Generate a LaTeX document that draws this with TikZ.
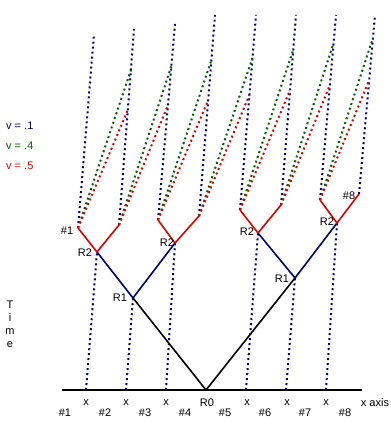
\documentclass[tikz,border=0pt]{standalone}
\usepackage{fontspec}
\setmainfont{Liberation Sans}
\definecolor{navy}{RGB}{0,0,110}
\definecolor{dgreen}{RGB}{0,100,0}
\definecolor{lred}{RGB}{220,0,0}
\begin{document}
\begin{tikzpicture}[x=1pt,y=-1pt,
  lbl/.style={inner sep=0pt,font=\fontsize{11}{13}\selectfont},
  solidln/.style={line width=1.6pt},
  dots/.style={line width=2pt,dash pattern=on 2pt off 3pt},
  ]
\useasboundingbox[fill=white] (0,0) rectangle (390,435);
% axis
\coordinate (A0) at (62,390);
\coordinate (A1) at (362,390);
\draw[line width=2pt] (A0) -- (A1);
% axis points
\coordinate (X1) at (86,390);
\coordinate (X2) at (126,390);
\coordinate (X3) at (166,390);
\coordinate (R0) at (206,390);
\coordinate (X5) at (246,390);
\coordinate (X6) at (286,390);
\coordinate (X7) at (326,390);
% vertices
\coordinate (R1a) at (133,298);
\coordinate (R1b) at (295,278);
\coordinate (R2a) at (97,252);
\coordinate (R2b) at (175,243);
\coordinate (R2c) at (258,233);
\coordinate (R2d) at (337,223);
% tips
\coordinate (T1) at (78,228);
\coordinate (T2) at (119,225);
\coordinate (T3) at (158,220);
\coordinate (T4) at (199,216);
\coordinate (T5) at (240,210);
\coordinate (T6) at (281,205);
\coordinate (T7) at (320,200);
\coordinate (T8) at (359,194);
% tops
\coordinate (B1) at (94,34);
\coordinate (B2) at (134,29);
\coordinate (B3) at (175,24);
\coordinate (B4) at (215,15);
\coordinate (B5) at (256,15);
\coordinate (B6) at (296,15);
\coordinate (B7) at (336,15);
\coordinate (B8) at (375,15);
% green ends
\coordinate (G1) at (130.9,70);
\coordinate (G2) at (171.4,66);
\coordinate (G3) at (211.4,60);
\coordinate (G4) at (252.5,58);
\coordinate (G5) at (293.2,50);
\coordinate (G6) at (333.6,43);
\coordinate (G7) at (372.9,38);
% red ends
\coordinate (E1) at (127.8,110);
\coordinate (E2) at (168.0,105);
\coordinate (E3) at (208.2,100);
\coordinate (E4) at (249.4,95);
\coordinate (E5) at (290.1,90);
\coordinate (E6) at (329.9,85);
\coordinate (E7) at (369.2,80);
% dotted worldlines from axis
\draw[dots,navy] (X1) -- (R2a);
\draw[dots,navy] (X2) -- (R1a);
\draw[dots,navy] (X3) -- (R2b);
\draw[dots,navy] (X5) -- (R2c);
\draw[dots,navy] (X6) -- (R1b);
\draw[dots,navy] (X7) -- (R2d);
% dotted from tips
\foreach \i in {1,...,8} \draw[dots,navy] (T\i) -- (B\i);
\foreach \i in {1,...,7} \draw[dots,dgreen] (T\i) -- (G\i);
\foreach \i in {1,...,7} \draw[dots,lred] (T\i) -- (E\i);
% solid tree
\draw[solidln] (R1a) -- (R0) -- (R1b);
\draw[solidln,navy] (R2a) -- (R1a) -- (R2b);
\draw[solidln,navy] (R2c) -- (R1b) -- (R2d);
\draw[solidln,lred] (T1) -- (R2a) -- (T2);
\draw[solidln,lred] (T3) -- (R2b) -- (T4);
\draw[solidln,lred] (T5) -- (R2c) -- (T6);
\draw[solidln,lred] (T7) -- (R2d) -- (T8);
% labels
\node[lbl] (lx1) at (86,403) {x};
\node[lbl] (lx2) at (126,403) {x};
\node[lbl] (lx3) at (166,403) {x};
\node[lbl] (lr0) at (207,403) {R0};
\node[lbl] (lx5) at (247,403) {x};
\node[lbl] (lx6) at (287,403) {x};
\node[lbl] (lx7) at (326,403) {x};
\node[lbl] (lxa) at (375,403) {x axis};
\node[lbl] (c1) at (65,413) {\#1};
\node[lbl] (c2) at (105,413) {\#2};
\node[lbl] (c3) at (145,413) {\#3};
\node[lbl] (c4) at (185,413) {\#4};
\node[lbl] (c5) at (225,413) {\#5};
\node[lbl] (c6) at (265,413) {\#6};
\node[lbl] (c7) at (305,413) {\#7};
\node[lbl] (c8) at (345,413) {\#8};
\node[lbl] (t1) at (10,305) {T};
\node[lbl] (t2) at (10,318) {i};
\node[lbl] (t3) at (10,332) {m};
\node[lbl] (t4) at (10,345) {e};
\node[lbl,anchor=west,navy] (v1) at (6,126) {v = .1};
\node[lbl,anchor=west,dgreen] (v4) at (6,146) {v = .4};
\node[lbl,anchor=west,lred] (v5) at (6,166) {v = .5};
\node[lbl] (h1) at (67,231) {\#1};
\node[lbl] (h8) at (349,196) {\#8};
\node[lbl] (lr2a) at (85,253) {R2};
\node[lbl] (lr2b) at (167,243) {R2};
\node[lbl] (lr2c) at (247,232) {R2};
\node[lbl] (lr2d) at (327,222) {R2};
\node[lbl] (lr1a) at (120,298) {R1};
\node[lbl] (lr1b) at (282,279) {R1};
\end{tikzpicture}
\end{document}
